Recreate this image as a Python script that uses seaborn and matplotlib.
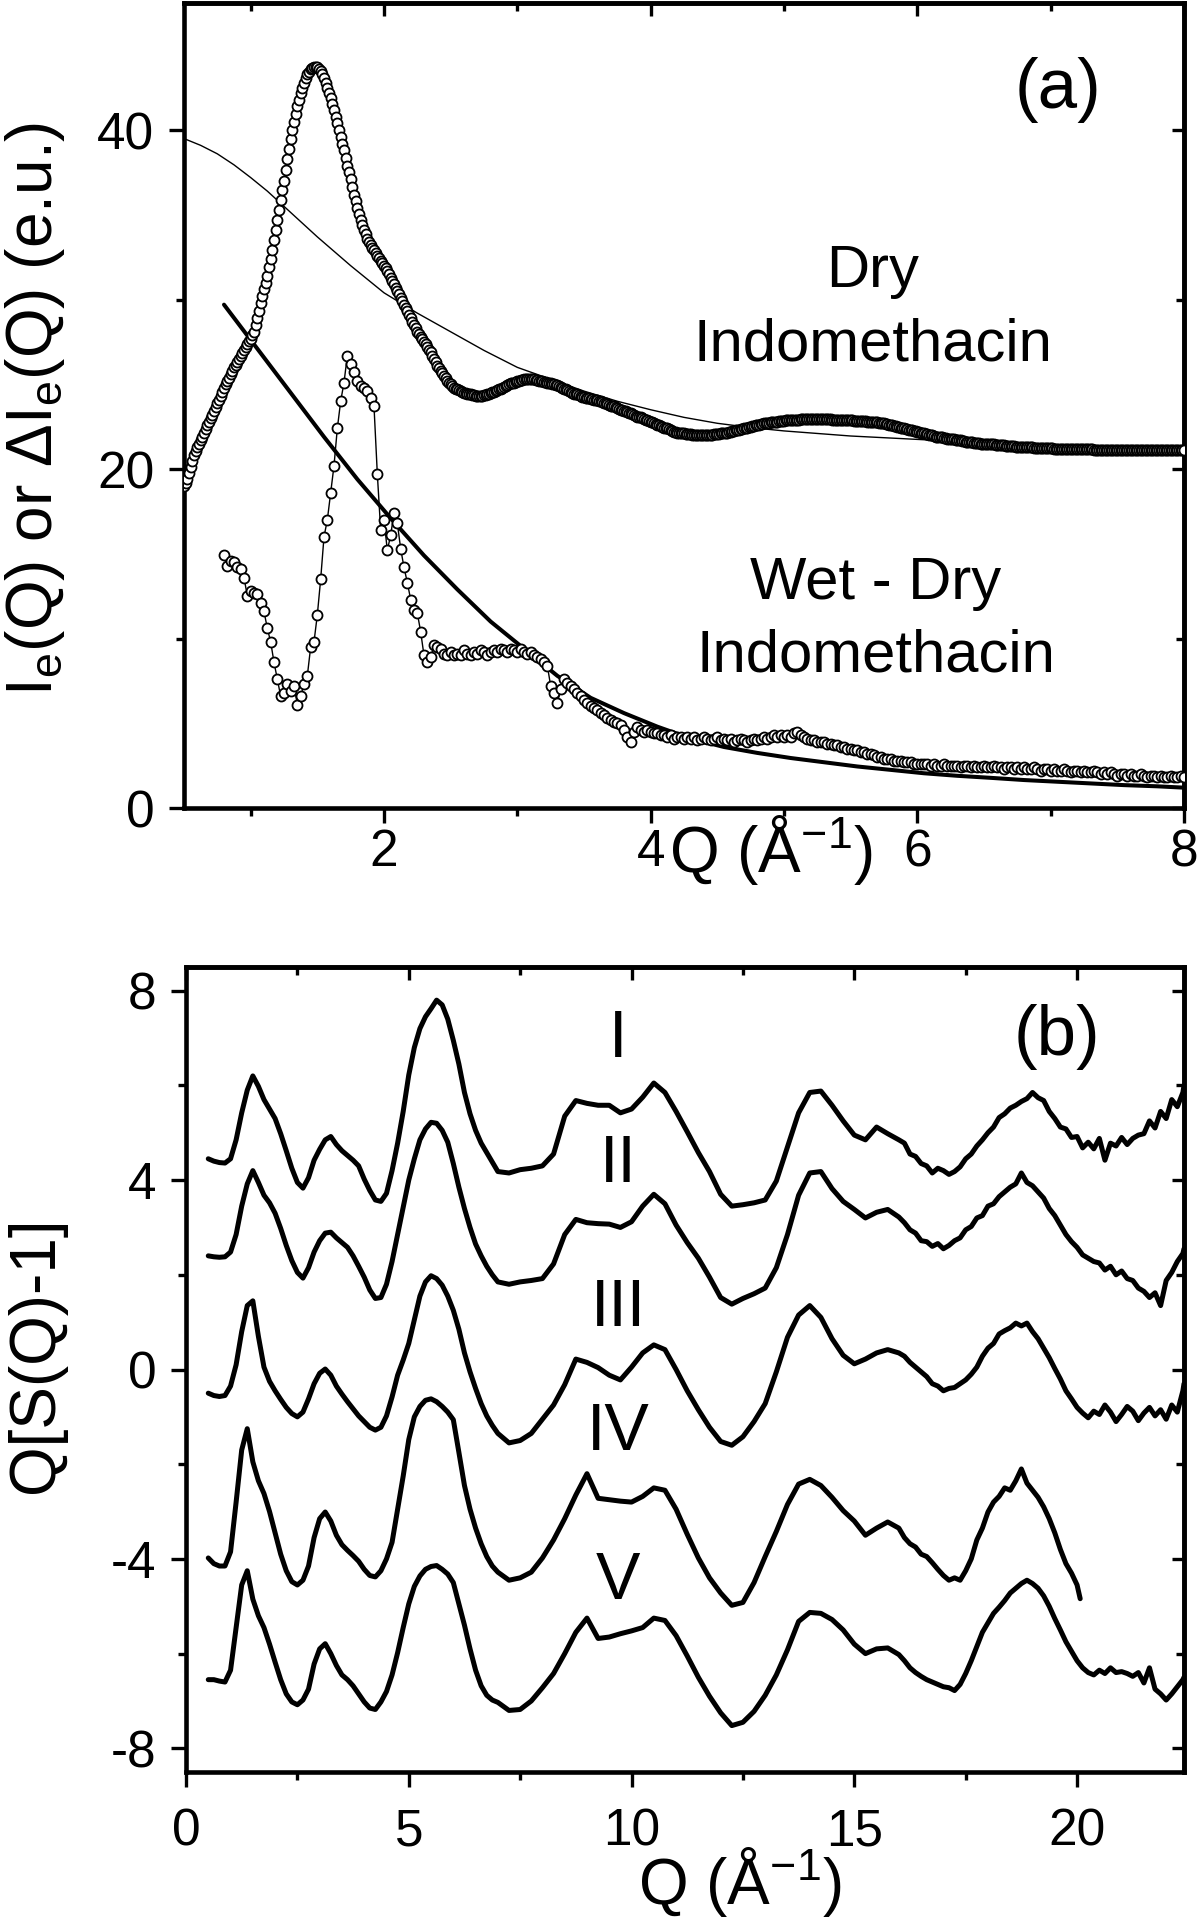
import numpy as np
import pandas as pd
import matplotlib
matplotlib.use("Agg")
import matplotlib.pyplot as plt
from matplotlib.ticker import MultipleLocator, NullFormatter
import seaborn as sns

# ------------------------------------------------------------------
# Panel (a) data
# ------------------------------------------------------------------
q_dry = np.round(np.arange(0.5, 8.0001, 0.0125), 4)
dry_intensity = [
    19.0, 19.2, 19.4, 19.75, 20.1, 20.45, 20.8, 21.05, 21.3, 21.5, 21.7, 21.9, 22.1, 22.35, 22.6, 22.8, 23.0, 23.2, 23.4, 23.65,
    23.9, 24.1, 24.3, 24.55, 24.8, 25.0, 25.2, 25.4, 25.6, 25.8, 26.0, 26.15, 26.3, 26.5, 26.7, 26.85, 27.0, 27.2, 27.4, 27.55,
    27.7, 27.9, 28.1, 28.5, 28.9, 29.35, 29.8, 30.2, 30.6, 31.0, 31.4, 31.9, 32.4, 32.95, 33.5, 34.1, 34.7, 35.3, 35.9, 36.45,
    37.0, 37.65, 38.3, 38.9, 39.5, 40.0, 40.5, 40.95, 41.4, 41.8, 42.2, 42.5, 42.8, 43.05, 43.3, 43.45, 43.6, 43.65, 43.7, 43.7,
    43.7, 43.6, 43.5, 43.3, 43.1, 42.8, 42.5, 42.2, 41.9, 41.55, 41.2, 40.8, 40.4, 40.0, 39.6, 39.2, 38.8, 38.35, 37.9, 37.5,
    37.1, 36.65, 36.2, 35.8, 35.4, 35.05, 34.7, 34.4, 34.1, 33.85, 33.6, 33.4, 33.2, 33.05, 32.9, 32.75, 32.6, 32.45, 32.3, 32.15,
    32.0, 31.85, 31.7, 31.5, 31.3, 31.1, 30.9, 30.7, 30.5, 30.3, 30.1, 29.9, 29.7, 29.5, 29.3, 29.1, 28.9, 28.7, 28.5, 28.3,
    28.1, 27.95, 27.8, 27.65, 27.5, 27.35, 27.2, 27.05, 26.9, 26.7, 26.5, 26.3, 26.1, 25.95, 25.8, 25.65, 25.5, 25.35, 25.2, 25.1,
    25.0, 24.9, 24.8, 24.75, 24.7, 24.65, 24.6, 24.55, 24.5, 24.48, 24.45, 24.42, 24.4, 24.38, 24.35, 24.32, 24.3, 24.3, 24.3, 24.32,
    24.35, 24.38, 24.4, 24.45, 24.5, 24.52, 24.55, 24.6, 24.65, 24.7, 24.75, 24.8, 24.85, 24.9, 24.95, 25.0, 25.05, 25.08, 25.1, 25.15,
    25.2, 25.22, 25.25, 25.28, 25.3, 25.3, 25.3, 25.3, 25.3, 25.3, 25.3, 25.28, 25.25, 25.22, 25.2, 25.18, 25.15, 25.12, 25.1, 25.08,
    25.05, 25.02, 25.0, 24.98, 24.95, 24.9, 24.85, 24.8, 24.75, 24.7, 24.65, 24.6, 24.55, 24.5, 24.45, 24.42, 24.4, 24.35, 24.3, 24.28,
    24.25, 24.22, 24.2, 24.18, 24.15, 24.12, 24.1, 24.08, 24.05, 24.02, 24.0, 23.95, 23.9, 23.88, 23.85, 23.8, 23.75, 23.72, 23.7, 23.65,
    23.6, 23.55, 23.5, 23.48, 23.45, 23.4, 23.35, 23.32, 23.3, 23.25, 23.2, 23.15, 23.1, 23.08, 23.05, 23.0, 22.95, 22.92, 22.9, 22.85,
    22.8, 22.75, 22.7, 22.65, 22.6, 22.58, 22.55, 22.5, 22.45, 22.42, 22.4, 22.35, 22.3, 22.25, 22.2, 22.18, 22.15, 22.12, 22.1, 22.1,
    22.1, 22.08, 22.05, 22.05, 22.05, 22.02, 22.0, 22.0, 22.0, 22.0, 22.0, 22.0, 22.0, 22.0, 22.0, 22.0, 22.0, 22.02, 22.05, 22.05,
    22.05, 22.08, 22.1, 22.1, 22.1, 22.12, 22.15, 22.18, 22.2, 22.22, 22.25, 22.28, 22.3, 22.32, 22.35, 22.38, 22.4, 22.42, 22.45, 22.48,
    22.5, 22.52, 22.55, 22.58, 22.6, 22.62, 22.65, 22.68, 22.7, 22.7, 22.7, 22.72, 22.75, 22.78, 22.8, 22.8, 22.8, 22.82, 22.85, 22.85,
    22.85, 22.88, 22.9, 22.9, 22.9, 22.9, 22.9, 22.9, 22.9, 22.92, 22.95, 22.95, 22.95, 22.95, 22.95, 22.95, 22.95, 22.95, 22.95, 22.95,
    22.95, 22.95, 22.95, 22.95, 22.95, 22.95, 22.95, 22.95, 22.95, 22.92, 22.9, 22.9, 22.9, 22.9, 22.9, 22.9, 22.9, 22.9, 22.9, 22.9,
    22.9, 22.88, 22.85, 22.85, 22.85, 22.85, 22.85, 22.85, 22.85, 22.82, 22.8, 22.8, 22.8, 22.78, 22.75, 22.75, 22.75, 22.72, 22.7, 22.7,
    22.7, 22.68, 22.65, 22.62, 22.6, 22.58, 22.55, 22.52, 22.5, 22.48, 22.45, 22.42, 22.4, 22.38, 22.35, 22.32, 22.3, 22.28, 22.25, 22.22,
    22.2, 22.18, 22.15, 22.12, 22.1, 22.08, 22.05, 22.02, 22.0, 21.98, 21.95, 21.92, 21.9, 21.9, 21.9, 21.88, 21.85, 21.82, 21.8, 21.78,
    21.75, 21.75, 21.75, 21.72, 21.7, 21.7, 21.7, 21.68, 21.65, 21.62, 21.6, 21.6, 21.6, 21.58, 21.55, 21.55, 21.55, 21.52, 21.5, 21.5,
    21.5, 21.48, 21.45, 21.45, 21.45, 21.45, 21.45, 21.42, 21.4, 21.4, 21.4, 21.4, 21.4, 21.38, 21.35, 21.35, 21.35, 21.35, 21.35, 21.32,
    21.3, 21.3, 21.3, 21.3, 21.3, 21.3, 21.3, 21.3, 21.3, 21.28, 21.25, 21.25, 21.25, 21.25, 21.25, 21.25, 21.25, 21.25, 21.25, 21.25,
    21.25, 21.22, 21.2, 21.2, 21.2, 21.2, 21.2, 21.2, 21.2, 21.2, 21.2, 21.2, 21.2, 21.2, 21.2, 21.2, 21.2, 21.2, 21.2, 21.2,
    21.2, 21.2, 21.2, 21.2, 21.2, 21.18, 21.15, 21.15, 21.15, 21.15, 21.15, 21.15, 21.15, 21.15, 21.15, 21.15, 21.15, 21.15, 21.15, 21.15,
    21.15, 21.15, 21.15, 21.15, 21.15, 21.15, 21.15, 21.12, 21.1, 21.1, 21.1, 21.1, 21.1, 21.1, 21.1, 21.1, 21.1, 21.1, 21.1, 21.1,
    21.1, 21.1, 21.1, 21.1, 21.1, 21.1, 21.1, 21.1, 21.1, 21.1, 21.1, 21.1, 21.1, 21.1, 21.1, 21.1, 21.1, 21.1, 21.1, 21.1,
    21.1,
]

q_dry_fit = [0.5, 0.625, 0.75, 0.875, 1.0, 1.125, 1.25, 1.375, 1.5, 1.625,
             1.75, 1.875, 2.0, 2.125, 2.25, 2.375, 2.5, 2.625, 2.75, 2.875,
             3.0, 3.25, 3.5, 3.75, 4.0, 4.25, 4.5, 4.75, 5.0, 5.25,
             5.5, 5.75, 6.0, 6.25, 6.5, 6.75, 7.0, 7.25, 7.5, 7.75, 8.0]
dry_fit = [39.5, 39.1, 38.6, 37.95, 37.2, 36.4, 35.5, 34.6, 33.7, 32.85,
           32.0, 31.2, 30.4, 29.8, 29.2, 28.65, 28.1, 27.55, 27.0, 26.5,
           26.0, 25.3, 24.6, 24.0, 23.5, 23.05, 22.7, 22.45, 22.25, 22.1,
           21.95, 21.85, 21.75, 21.65, 21.55, 21.45, 21.35, 21.3, 21.25, 21.2, 21.15]

q_diff = np.round(np.arange(0.8, 8.0001, 0.025), 3)
diff_intensity = [
    14.9, 14.3, 14.6, 14.5, 14.2, 14.1, 13.6, 12.5, 12.8, 12.7,
    12.6, 12.1, 11.6, 10.6, 9.8, 8.6, 7.6, 6.6, 6.8, 7.3,
    6.9, 7.2, 6.1, 6.6, 7.3, 7.8, 9.5, 9.8, 11.4, 13.5,
    16.0, 17.0, 18.6, 20.2, 22.4, 24.0, 25.1, 26.7, 26.2, 25.7,
    25.2, 24.9, 24.8, 24.6, 24.2, 23.7, 19.7, 16.4, 17.0, 15.2,
    16.1, 17.4, 16.8, 15.3, 14.2, 13.3, 12.3, 11.7, 11.5, 10.4,
    9.0, 8.6, 8.9, 9.6, 9.5, 9.4, 9.1, 9.0, 9.2, 9.0,
    9.1, 9.0, 9.3, 9.1, 9.0, 9.2, 9.1, 9.3, 9.2, 9.0,
    9.2, 9.3, 9.2, 9.4, 9.3, 9.2, 9.4, 9.3, 9.2, 9.4,
    9.2, 9.1, 9.2, 9.0, 8.9, 8.8, 8.6, 8.4, 7.2, 6.8,
    6.2, 7.0, 7.6, 7.4, 7.2, 7.0, 6.8, 6.6, 6.4, 6.2,
    6.0, 5.9, 5.8, 5.6, 5.5, 5.3, 5.2, 5.1, 5.0, 4.9,
    4.6, 4.2, 3.9, 4.5, 4.8, 4.6, 4.5, 4.6, 4.5, 4.4,
    4.4, 4.3, 4.3, 4.2, 4.3, 4.1, 4.2, 4.2, 4.1, 4.2,
    4.1, 4.2, 4.0, 4.1, 4.2, 4.1, 4.0, 4.1, 4.2, 4.0,
    4.1, 4.0, 4.1, 3.9, 4.0, 4.1, 4.0, 3.9, 4.0, 4.1,
    4.0, 4.1, 4.2, 4.1, 4.2, 4.3, 4.2, 4.3, 4.2, 4.3,
    4.2, 4.4, 4.5, 4.3, 4.2, 4.1, 4.0, 4.0, 3.9, 3.9,
    3.9, 3.8, 3.8, 3.7, 3.7, 3.6, 3.6, 3.5, 3.5, 3.4,
    3.4, 3.3, 3.3, 3.2, 3.2, 3.1, 3.0, 3.0, 2.9, 2.9,
    2.9, 2.8, 2.8, 2.8, 2.7, 2.7, 2.7, 2.6, 2.6, 2.6,
    2.6, 2.6, 2.5, 2.6, 2.5, 2.5, 2.6, 2.5, 2.5, 2.5,
    2.5, 2.4, 2.5, 2.5, 2.4, 2.5, 2.4, 2.4, 2.5, 2.4,
    2.4, 2.5, 2.4, 2.4, 2.3, 2.4, 2.4, 2.3, 2.4, 2.3,
    2.4, 2.3, 2.3, 2.4, 2.3, 2.2, 2.3, 2.3, 2.2, 2.3,
    2.2, 2.2, 2.3, 2.2, 2.1, 2.2, 2.2, 2.1, 2.2, 2.1,
    2.1, 2.2, 2.1, 2.0, 2.1, 2.0, 2.1, 2.0, 1.9, 2.0,
    2.0, 1.9, 2.0, 1.9, 1.9, 2.0, 1.9, 1.8, 1.9, 1.9,
    1.8, 1.9, 1.8, 1.8, 1.9, 1.8, 1.8, 1.9, 1.8,
]

q_diff_fit = [0.8, 1.05, 1.3, 1.55, 1.8, 2.05, 2.3, 2.55, 2.8, 3.05,
              3.3, 3.55, 3.8, 4.05, 4.3, 4.55, 4.8, 5.05, 5.3, 5.55,
              5.8, 6.05, 6.3, 6.55, 6.8, 7.05, 7.3, 7.55, 7.8, 8.0]
diff_fit = [29.7, 27.1, 24.5, 21.9, 19.4, 17.1, 14.9, 12.9, 11.0, 9.4,
            7.8, 6.5, 5.6, 4.8, 4.1, 3.6, 3.25, 2.95, 2.7, 2.45,
            2.25, 2.05, 1.9, 1.78, 1.65, 1.55, 1.45, 1.35, 1.28, 1.2]

# ------------------------------------------------------------------
# Panel (b) data : Q[S(Q)-1] curves I-V (three Q sampling ranges)
# ------------------------------------------------------------------
q_b_low = np.arange(0.5, 6.9, 0.125)                       # 0.5 .. 6.875
q_b_mid = np.arange(7.0, 15.9, 0.25)                       # 7.0 .. 15.75
q_b_fine = np.append(np.arange(16.0, 22.38, 0.125), 22.4)  # 16.0 .. 22.4
q_b_fine_iv = np.append(np.arange(16.0, 20.01, 0.125), 20.07)

curve_I = [
    4.45, 4.40, 4.37, 4.36, 4.45, 4.85, 5.42, 5.90, 6.20, 5.98,
    5.70, 5.50, 5.30, 4.98, 4.62, 4.25, 3.95, 3.83, 4.05, 4.42,
    4.65, 4.85, 4.92, 4.75, 4.62, 4.52, 4.42, 4.30, 4.02, 3.78,
    3.58, 3.55, 3.72, 4.20, 4.78, 5.45, 6.22, 6.80, 7.20, 7.45,
    7.62, 7.80, 7.70, 7.40, 6.95, 6.45, 5.85, 5.40, 5.05, 4.78,
    4.58, 4.38,
    4.18, 4.15, 4.22, 4.25, 4.30, 4.55, 5.35, 5.68, 5.62, 5.58,
    5.58, 5.42, 5.50, 5.75, 6.05, 5.85, 5.45, 5.02, 4.58, 4.18,
    3.70, 3.45, 3.48, 3.52, 3.58, 3.98, 4.70, 5.42, 5.85, 5.88,
    5.58, 5.25, 4.95, 4.85, 5.12, 4.98,
    4.85, 4.78, 4.55, 4.50, 4.35, 4.30, 4.15, 4.25,
    4.20, 4.12, 4.18, 4.28, 4.45, 4.55, 4.72, 4.85,
    5.00, 5.12, 5.32, 5.40, 5.52, 5.58, 5.66, 5.72,
    5.85, 5.74, 5.68, 5.45, 5.30, 5.12, 5.08, 4.90,
    4.92, 4.68, 4.80, 4.66, 4.88, 4.42, 4.78, 4.72,
    4.90, 4.75, 4.88, 4.95, 4.98, 5.25, 5.10, 5.45,
    5.30, 5.70, 5.55, 5.85, 6.00,
]
curve_II = [
    2.40, 2.38, 2.37, 2.38, 2.48, 2.85, 3.45, 3.92, 4.20, 3.95,
    3.68, 3.52, 3.30, 2.98, 2.62, 2.30, 2.05, 1.93, 2.15, 2.48,
    2.72, 2.88, 2.90, 2.78, 2.68, 2.58, 2.40, 2.18, 1.95, 1.68,
    1.50, 1.52, 1.80, 2.28, 2.85, 3.42, 4.00, 4.45, 4.85, 5.08,
    5.22, 5.20, 5.05, 4.80, 4.35, 3.85, 3.40, 3.00, 2.65, 2.40,
    2.18, 2.00,
    1.85, 1.80, 1.85, 1.88, 1.92, 2.23, 2.85, 3.17, 3.10, 3.08,
    3.07, 3.00, 3.12, 3.45, 3.70, 3.50, 3.05, 2.68, 2.35, 1.95,
    1.52, 1.38, 1.50, 1.60, 1.72, 2.15, 2.85, 3.68, 4.15, 4.18,
    3.82, 3.55, 3.38, 3.20, 3.32, 3.38,
    3.22, 3.10, 2.95, 2.88, 2.72, 2.70, 2.60, 2.66,
    2.55, 2.62, 2.72, 2.78, 2.95, 3.02, 3.20, 3.25,
    3.45, 3.50, 3.65, 3.75, 3.85, 3.92, 4.15, 3.95,
    3.88, 3.75, 3.62, 3.40, 3.25, 3.05, 2.85, 2.70,
    2.58, 2.42, 2.35, 2.28, 2.25, 2.10, 2.18, 2.00,
    2.08, 1.92, 1.88, 1.72, 1.65, 1.52, 1.62, 1.35,
    1.88, 2.05, 2.28, 2.45, 2.55,
]
curve_III = [
    -0.50, -0.55, -0.57, -0.55, -0.35, 0.10, 0.80, 1.35, 1.45, 0.70,
    0.05, -0.25, -0.45, -0.63, -0.80, -0.93, -1.00, -0.90, -0.62, -0.30,
    -0.08, 0.01, -0.12, -0.35, -0.52, -0.68, -0.83, -0.98, -1.10, -1.22,
    -1.28, -1.22, -0.98, -0.58, -0.12, 0.20, 0.55, 1.05, 1.55, 1.85,
    1.98, 1.92, 1.78, 1.55, 1.25, 0.85, 0.35, -0.05, -0.40, -0.72,
    -0.98, -1.18,
    -1.35, -1.55, -1.50, -1.35, -1.05, -0.75, -0.32, 0.22, 0.15, 0.04,
    -0.12, -0.22, 0.05, 0.35, 0.52, 0.42, 0.00, -0.45, -0.85, -1.22,
    -1.52, -1.60, -1.42, -1.10, -0.72, -0.05, 0.68, 1.15, 1.35, 1.10,
    0.65, 0.30, 0.12, 0.22, 0.35, 0.42,
    0.35, 0.28, 0.15, 0.05, -0.05, -0.15, -0.30, -0.35,
    -0.45, -0.40, -0.38, -0.30, -0.22, -0.10, 0.05, 0.28,
    0.45, 0.55, 0.75, 0.82, 0.88, 0.98, 0.92, 0.98,
    0.80, 0.65, 0.45, 0.25, 0.02, -0.20, -0.45, -0.62,
    -0.80, -0.92, -1.02, -0.88, -0.95, -0.75, -0.90, -1.10,
    -0.95, -0.78, -0.88, -1.08, -0.92, -0.80, -0.98, -0.85,
    -1.05, -0.75, -0.90, -0.45, -0.30,
]
curve_IV = [
    -3.98, -4.10, -4.15, -4.15, -3.85, -2.80, -1.70, -1.25, -1.95, -2.35,
    -2.62, -3.00, -3.45, -3.90, -4.25, -4.48, -4.55, -4.45, -4.15, -3.55,
    -3.15, -3.01, -3.20, -3.50, -3.70, -3.82, -3.93, -4.05, -4.22, -4.35,
    -4.38, -4.25, -4.00, -3.65, -2.95, -2.25, -1.48, -1.00, -0.78, -0.65,
    -0.62, -0.68, -0.78, -0.90, -1.06, -1.75, -2.45, -2.95, -3.35, -3.68,
    -3.95, -4.15,
    -4.28, -4.45, -4.40, -4.28, -3.98, -3.60, -3.15, -2.65, -2.20, -2.72,
    -2.75, -2.78, -2.80, -2.68, -2.50, -2.55, -2.95, -3.48, -3.98, -4.40,
    -4.72, -4.98, -4.92, -4.50, -3.95, -3.42, -2.85, -2.42, -2.32, -2.45,
    -2.70, -2.98, -3.20, -3.50, -3.35, -3.22,
    -3.35, -3.55, -3.68, -3.75, -3.90, -3.95, -4.08, -4.22,
    -4.35, -4.45, -4.40, -4.45, -4.25, -4.00, -3.60, -3.35,
    -3.01, -2.80, -2.68, -2.50, -2.55, -2.35, -2.10, -2.40,
    -2.55, -2.70, -2.90, -3.15, -3.45, -3.80, -4.10, -4.30,
    -4.55, -4.84,
]
curve_V = [
    -6.55, -6.55, -6.58, -6.60, -6.35, -5.45, -4.55, -4.25, -4.85, -5.20,
    -5.45, -5.80, -6.18, -6.55, -6.85, -7.02, -7.08, -6.98, -6.75, -6.22,
    -5.90, -5.79, -6.00, -6.25, -6.45, -6.55, -6.68, -6.85, -7.02, -7.15,
    -7.18, -7.02, -6.80, -6.45, -5.98, -5.45, -4.95, -4.58, -4.36, -4.22,
    -4.16, -4.14, -4.22, -4.32, -4.50, -4.95, -5.40, -5.90, -6.35, -6.68,
    -6.88, -6.98,
    -7.03, -7.20, -7.18, -7.00, -6.72, -6.42, -6.00, -5.55, -5.25, -5.68,
    -5.65, -5.58, -5.52, -5.45, -5.25, -5.30, -5.62, -6.05, -6.50, -6.90,
    -7.25, -7.52, -7.45, -7.22, -6.88, -6.45, -5.92, -5.32, -5.13, -5.15,
    -5.28, -5.50, -5.80, -6.00, -5.90, -5.88,
    -6.02, -6.15, -6.30, -6.40, -6.48, -6.55, -6.60, -6.65,
    -6.70, -6.72, -6.78, -6.65, -6.42, -6.15, -5.85, -5.55,
    -5.35, -5.15, -5.02, -4.88, -4.72, -4.62, -4.52, -4.45,
    -4.52, -4.62, -4.78, -5.00, -5.26, -5.50, -5.75, -5.95,
    -6.15, -6.30, -6.40, -6.45, -6.35, -6.42, -6.30, -6.40,
    -6.38, -6.42, -6.48, -6.40, -6.62, -6.30, -6.75, -6.85,
    -6.98, -6.85, -6.70, -6.55, -6.50,
]

curve_names = ["I", "II", "III", "IV", "V"]
curve_label_q = 9.7
curve_label_y = [6.60, 3.96, 0.92, -1.71, -4.85]

# ------------------------------------------------------------------
# Style
# ------------------------------------------------------------------
sns.set_theme(style="ticks")
plt.rcParams["font.family"] = ["Liberation Sans", "DejaVu Sans"]
plt.rcParams["mathtext.default"] = "regular"
plt.rcParams["axes.unicode_minus"] = False
plt.rcParams["axes.edgecolor"] = "black"
plt.rcParams["xtick.color"] = "black"
plt.rcParams["ytick.color"] = "black"
plt.rcParams["text.color"] = "black"
plt.rcParams["axes.labelcolor"] = "black"

TICK_FS = 37
LABEL_FS = 46
SPINE_W = 3.3
TW = 2.4
MAJ_OUT, MIN_OUT = 10.5, 5.8
MAJ_IN, MIN_IN = 9.0, 5.5

fig = plt.figure(figsize=(12, 19.2), dpi=100)
fig.patch.set_facecolor("white")
ax_a = fig.add_axes([184 / 1200, 1 - 808 / 1920, 1000 / 1200, 805 / 1920])
ax_b = fig.add_axes([186 / 1200, 1 - 1772 / 1920, 998 / 1200, 805 / 1920])


def style_axes(ax, xmaj, xmin, ymaj, ymin, xpad, ypad):
    ax.xaxis.set_major_locator(MultipleLocator(xmaj))
    ax.xaxis.set_minor_locator(MultipleLocator(xmin))
    ax.yaxis.set_major_locator(MultipleLocator(ymaj))
    ax.yaxis.set_minor_locator(MultipleLocator(ymin))
    ax.tick_params(which="both", direction="out", top=False, right=False,
                   width=TW, labelsize=TICK_FS, color="black")
    ax.tick_params(which="major", length=MAJ_OUT)
    ax.tick_params(which="minor", length=MIN_OUT)
    ax.tick_params(axis="x", which="both", pad=xpad)
    ax.tick_params(axis="y", which="both", pad=ypad)
    for s in ax.spines.values():
        s.set_linewidth(SPINE_W)
        s.set_color("black")
    ax.set_facecolor("white")
    sx = ax.secondary_xaxis("top")
    sx.xaxis.set_major_locator(MultipleLocator(xmaj))
    sx.xaxis.set_minor_locator(MultipleLocator(xmin))
    sx.xaxis.set_major_formatter(NullFormatter())
    sx.tick_params(which="both", direction="in", width=TW)
    sx.tick_params(which="major", length=MAJ_IN)
    sx.tick_params(which="minor", length=MIN_IN)
    sx.spines["top"].set_linewidth(SPINE_W)
    sy = ax.secondary_yaxis("right")
    sy.yaxis.set_major_locator(MultipleLocator(ymaj))
    sy.yaxis.set_minor_locator(MultipleLocator(ymin))
    sy.yaxis.set_major_formatter(NullFormatter())
    sy.tick_params(which="both", direction="in", width=TW)
    sy.tick_params(which="major", length=MAJ_IN)
    sy.tick_params(which="minor", length=MIN_IN)
    sy.spines["right"].set_linewidth(SPINE_W)


# ------------------------------------------------------------------
# Panel (a)
# ------------------------------------------------------------------
sns.lineplot(x=q_dry_fit, y=dry_fit, ax=ax_a, color="black", linewidth=1.0,
             estimator=None, sort=False, zorder=2)
sns.lineplot(x=q_diff_fit, y=diff_fit, ax=ax_a, color="black", linewidth=2.9,
             estimator=None, sort=False, zorder=2)
sns.scatterplot(x=q_dry, y=dry_intensity, ax=ax_a, s=52, color="white",
                edgecolor="black", linewidth=1.3, zorder=3)
sns.lineplot(x=q_diff, y=diff_intensity, ax=ax_a, color="black", linewidth=1.0,
             estimator=None, sort=False, marker="o", markersize=7.2,
             markerfacecolor="white", markeredgecolor="black",
             markeredgewidth=1.3, zorder=3)

ax_a.set_xlim(0.5, 8.0)
ax_a.set_ylim(0, 47.5)
style_axes(ax_a, 2, 1, 20, 10, xpad=4, ypad=11)
ax_a.set_xlabel("Q (Å$^{-1}$)", fontsize=LABEL_FS, va="center")
ax_a.xaxis.set_label_coords(0.587, -0.052)
ax_a.set_ylabel("I$_e$(Q) or ΔI$_e$(Q) (e.u.)", fontsize=LABEL_FS, va="center")
ax_a.yaxis.set_label_coords(-0.149, 0.496)

ax_a.text(0.874, 0.892, "(a)", transform=ax_a.transAxes, fontsize=51,
          ha="center", va="center")
ax_a.text(0.6885, 0.647, "Dry", transform=ax_a.transAxes, fontsize=43,
          ha="center", va="baseline")
ax_a.text(0.6885, 0.5565, "Indomethacin", transform=ax_a.transAxes, fontsize=43,
          ha="center", va="baseline")
ax_a.text(0.6915, 0.2596, "Wet - Dry", transform=ax_a.transAxes, fontsize=43,
          ha="center", va="baseline")
ax_a.text(0.6915, 0.169, "Indomethacin", transform=ax_a.transAxes, fontsize=43,
          ha="center", va="baseline")

# ------------------------------------------------------------------
# Panel (b)
# ------------------------------------------------------------------
frames = []
for name, vals in zip(curve_names, [curve_I, curve_II, curve_III, curve_IV, curve_V]):
    tail = q_b_fine_iv if name == "IV" else q_b_fine
    q = np.concatenate([q_b_low, q_b_mid, tail])
    frames.append(pd.DataFrame({"Q": q, "val": vals, "curve": name}))
df_b = pd.concat(frames, ignore_index=True)

sns.lineplot(data=df_b, x="Q", y="val", units="curve", estimator=None,
             sort=False, color="black", linewidth=3.6, ax=ax_b, legend=False)

ax_b.set_xlim(0, 22.4)
ax_b.set_ylim(-8.5, 8.5)
style_axes(ax_b, 5, 2.5, 4, 2, xpad=15, ypad=11)
ax_b.set_xlabel("Q (Å$^{-1}$)", fontsize=LABEL_FS, va="center")
ax_b.xaxis.set_label_coords(0.555, -0.137)
ax_b.set_ylabel("Q[S(Q)-1]", fontsize=LABEL_FS, va="center")
ax_b.yaxis.set_label_coords(-0.150, 0.518)

for name, yy in zip(curve_names, curve_label_y):
    ax_b.text(curve_label_q, yy, name, fontsize=48, ha="center", va="baseline")
ax_b.text(0.873, 0.913, "(b)", transform=ax_b.transAxes, fontsize=51,
          ha="center", va="center")

fig.savefig("out.png", dpi=100, facecolor="white")
